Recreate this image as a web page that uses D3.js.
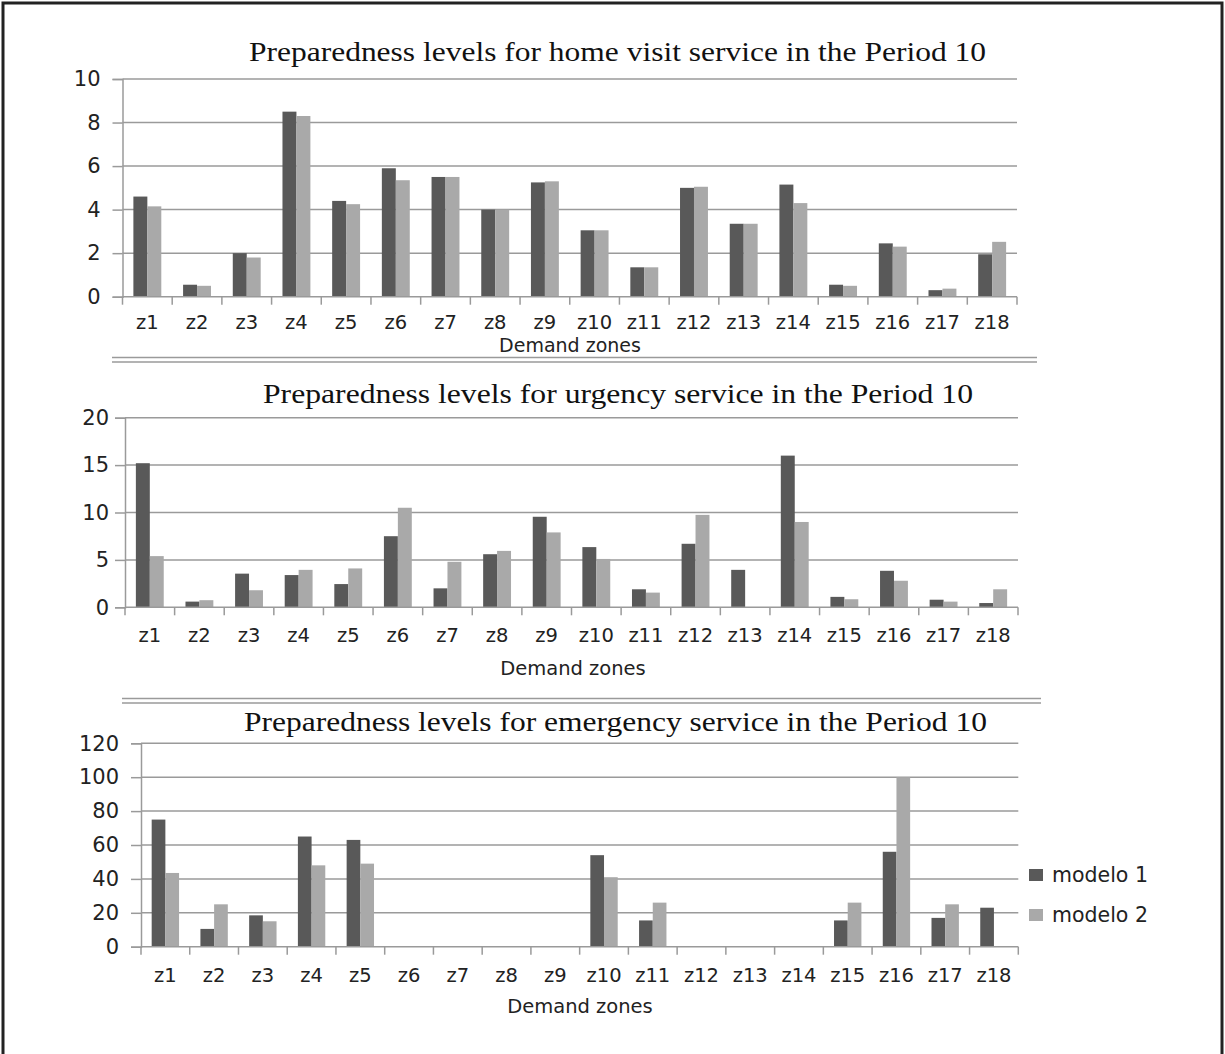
<!DOCTYPE html>
<html>
<head>
<meta charset="utf-8">
<script src="https://cdn.jsdelivr.net/npm/d3@7"></script>
<style>
  body { margin: 0; background: #fff; }
  svg { display: block; }
</style>
</head>
<body>
<div id="chart"></div>
<script>
// data
const zones = ["z1","z2","z3","z4","z5","z6","z7","z8","z9","z10","z11","z12","z13","z14","z15","z16","z17","z18"];
const seriesNames = ["modelo 1", "modelo 2"];

const homeModelo1 = [4.6, 0.55, 2.0, 8.5, 4.4, 5.9, 5.5, 4.0, 5.25, 3.05, 1.35, 5.0, 3.35, 5.15, 0.55, 2.45, 0.3, 1.95];
const homeModelo2 = [4.15, 0.5, 1.8, 8.3, 4.25, 5.35, 5.5, 4.0, 5.3, 3.05, 1.35, 5.05, 3.35, 4.3, 0.5, 2.3, 0.37, 2.52];

const urgModelo1 = [15.2, 0.6, 3.55, 3.4, 2.45, 7.5, 2.0, 5.6, 9.55, 6.35, 1.9, 6.7, 3.95, 16.0, 1.1, 3.85, 0.8, 0.45];
const urgModelo2 = [5.4, 0.75, 1.8, 3.95, 4.1, 10.5, 4.8, 5.95, 7.9, 5.1, 1.55, 9.75, 0, 9.0, 0.85, 2.8, 0.6, 1.9];

const emgModelo1 = [75, 10.5, 18.5, 65, 63, 0, 0, 0, 0, 54, 15.5, 0, 0, 0, 15.5, 56, 17, 23];
const emgModelo2 = [43.5, 25, 15, 48, 49, 0, 0, 0, 0, 41, 26, 0, 0, 0, 26, 100, 25, 0];

const homeTicks = [0, 2, 4, 6, 8, 10];
const urgTicks = [0, 5, 10, 15, 20];
const emgTicks = [0, 20, 40, 60, 80, 100, 120];

const titles = [
  "Preparedness levels  for home visit service in the Period 10",
  "Preparedness levels  for urgency service in the Period 10",
  "Preparedness levels  for emergency service in the Period 10"
];
const xTitle = "Demand zones";

// page constants
const WIDTH = 1225;
const HEIGHT = 1054;
const colors = ["#595959", "#a9a9a9"];
const sansFont = "DejaVu Sans, sans-serif";
const serifFont = "Liberation Serif, Times New Roman, serif";

const svg = d3.select("#chart").append("svg")
  .attr("width", WIDTH)
  .attr("height", HEIGHT);

svg.append("rect").attr("width", WIDTH).attr("height", HEIGHT).attr("fill", "#fff");

// outer frame (bottom edge falls outside the picture)
svg.append("rect")
  .attr("x", 3).attr("y", 3)
  .attr("width", 1219).attr("height", 1100)
  .attr("fill", "none")
  .attr("stroke", "#222")
  .attr("stroke-width", 3);

// one panel per service
const panels = [
  { title: titles[0], s1: homeModelo1, s2: homeModelo2, ticks: homeTicks,
    left: 122.5, right: 1017, top: 79, bottom: 296.7,
    titleX: 249, titleY: 61, titleW: 737, labelY: 328.5, zonesX: 570, zonesY: 351.5, zonesSize: 19, pad: 12 },
  { title: titles[1], s1: urgModelo1, s2: urgModelo2, ticks: urgTicks,
    left: 125, right: 1018, top: 417.7, bottom: 607.3,
    titleX: 263, titleY: 403, titleW: 710, labelY: 641.5, zonesX: 573, zonesY: 675, zonesSize: 19.5, pad: 6 },
  { title: titles[2], s1: emgModelo1, s2: emgModelo2, ticks: emgTicks,
    left: 141, right: 1018.3, top: 743.3, bottom: 946.7,
    titleX: 244, titleY: 731, titleW: 743, labelY: 981.5, zonesX: 580, zonesY: 1013, zonesSize: 19.5, pad: 12 }
];

panels.forEach(p => drawPanel(p));

function drawPanel(p) {
  const x = d3.scaleBand().domain(zones).range([p.left, p.right]);
  const xIn = d3.scaleBand().domain([0, 1])
    .range([0, x.bandwidth()]).paddingInner(0).paddingOuter(0.78);
  const y = d3.scaleLinear().domain([0, d3.max(p.ticks)]).range([p.bottom, p.top]);

  const g = svg.append("g");

  // gridlines + left ticks
  const yAxis = d3.axisLeft(y).tickValues(p.ticks).tickSize(10).tickPadding(p.pad);
  const ya = g.append("g").attr("transform", `translate(${p.left},0)`).call(yAxis);
  ya.select(".domain").attr("stroke", "#9a9a9a").attr("stroke-width", 1.5);
  ya.selectAll(".tick line").attr("stroke", "#9a9a9a").attr("stroke-width", 1.5);
  ya.selectAll(".tick text")
    .attr("font-family", sansFont).attr("font-size", 21).attr("fill", "#222");

  g.append("g").selectAll("line")
    .data(p.ticks.filter(t => t > 0))
    .join("line")
    .attr("x1", p.left).attr("x2", p.right)
    .attr("y1", d => y(d)).attr("y2", d => y(d))
    .attr("stroke", "#9a9a9a").attr("stroke-width", 1.5);

  // bars
  const rows = zones.map((z, i) => ({ zone: z, vals: [p.s1[i], p.s2[i]] }));
  g.append("g").selectAll("g")
    .data(rows)
    .join("g")
    .attr("transform", d => `translate(${x(d.zone)},0)`)
    .selectAll("rect")
    .data(d => d.vals.map((v, k) => ({ k, v })))
    .join("rect")
    .attr("x", d => xIn(d.k))
    .attr("width", xIn.bandwidth())
    .attr("y", d => y(d.v))
    .attr("height", d => y(0) - y(d.v))
    .attr("fill", d => colors[d.k]);

  // x axis: line, boundary ticks, labels
  g.append("line")
    .attr("x1", p.left).attr("x2", p.right)
    .attr("y1", y(0)).attr("y2", y(0))
    .attr("stroke", "#9a9a9a").attr("stroke-width", 1.5);

  const bounds = zones.map(z => x(z)).concat([p.right]);
  g.append("g").selectAll("line")
    .data(bounds)
    .join("line")
    .attr("x1", d => d).attr("x2", d => d)
    .attr("y1", y(0)).attr("y2", y(0) + 8)
    .attr("stroke", "#9a9a9a").attr("stroke-width", 1.5);

  g.append("g").selectAll("text")
    .data(zones)
    .join("text")
    .attr("x", d => x(d) + x.bandwidth() / 2)
    .attr("y", p.labelY)
    .attr("text-anchor", "middle")
    .attr("font-family", sansFont).attr("font-size", 19.5)
    .attr("fill", "#222")
    .text(d => d);

  g.append("text")
    .attr("x", p.zonesX).attr("y", p.zonesY)
    .attr("text-anchor", "middle")
    .attr("font-family", sansFont).attr("font-size", p.zonesSize)
    .attr("fill", "#222")
    .text(xTitle);

  // title
  g.append("text")
    .attr("x", p.titleX).attr("y", p.titleY)
    .attr("font-family", serifFont).attr("font-size", 28)
    .attr("textLength", p.titleW)
    .attr("lengthAdjust", "spacingAndGlyphs")
    .attr("fill", "#111")
    .text(p.title);
}

// double separator lines between panels
const separators = [
  { x1: 112, x2: 1037, y: 357.5 },
  { x1: 122, x2: 1041, y: 698.5 }
];
separators.forEach(s => {
  [0, 4.5].forEach(off => {
    svg.append("line")
      .attr("x1", s.x1).attr("x2", s.x2)
      .attr("y1", s.y + off).attr("y2", s.y + off)
      .attr("stroke", "#9a9a9a").attr("stroke-width", 1.5);
  });
});

// legend (beside the bottom panel)
const legend = svg.append("g").attr("transform", "translate(1029,869)");
legend.selectAll("rect")
  .data(seriesNames)
  .join("rect")
  .attr("x", 0).attr("y", (d, i) => i * 40)
  .attr("width", 14).attr("height", 12)
  .attr("fill", (d, i) => colors[i]);
legend.selectAll("text")
  .data(seriesNames)
  .join("text")
  .attr("x", 23).attr("y", (d, i) => i * 40 + 13)
  .attr("font-family", sansFont).attr("font-size", 20.5)
  .attr("fill", "#222")
  .text(d => d);
</script>
</body>
</html>
